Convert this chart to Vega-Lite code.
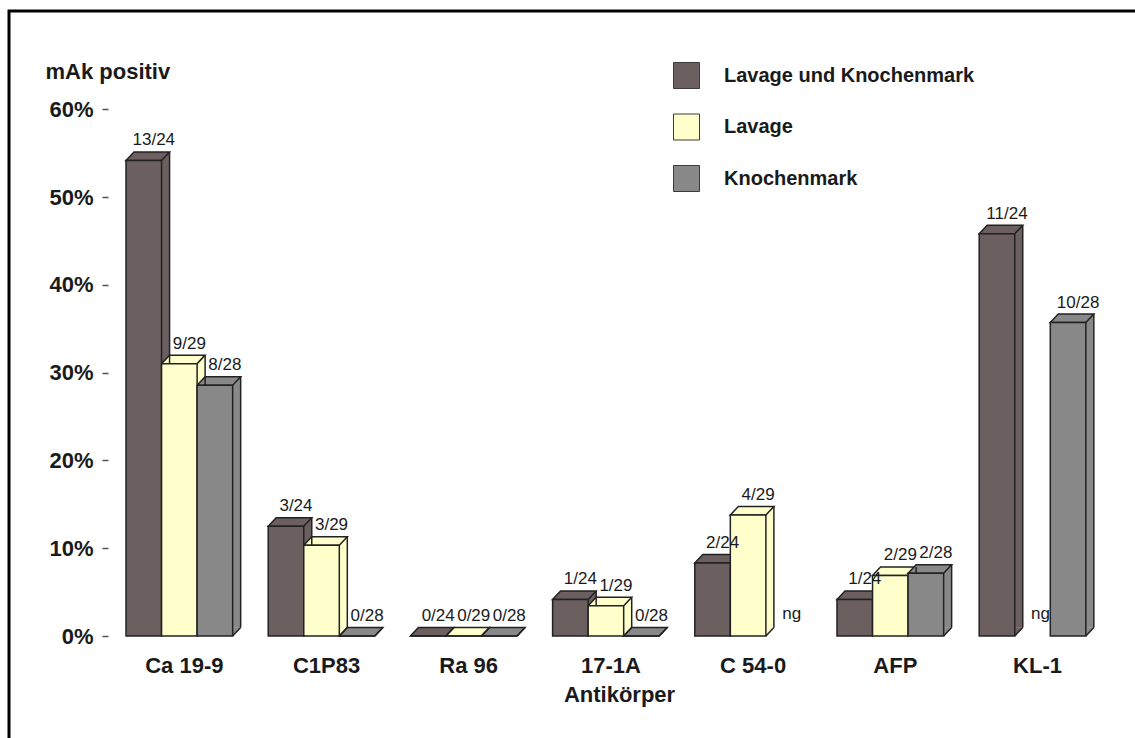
{
  "$schema": "https://vega.github.io/schema/vega-lite/v6.json",
  "width": 1136,
  "height": 738,
  "autosize": {"type": "none"},
  "padding": {"left": 9, "top": 11, "right": -10, "bottom": -11},
  "background": "#ffffff",
  "config": {
    "view": {"stroke": "#000000", "strokeWidth": 3},
    "font": "Liberation Sans",
    "axis": {"grid": false, "domain": false}
  },
  "data": {
    "values": [
      {"kategorie": "Ca 19-9|Lavage und Knochenmark", "gruppe": "Lavage und Knochenmark", "prozent": 54.17, "anteil": "13/24"},
      {"kategorie": "Ca 19-9|Lavage", "gruppe": "Lavage", "prozent": 31.03, "anteil": "9/29"},
      {"kategorie": "Ca 19-9|Knochenmark", "gruppe": "Knochenmark", "prozent": 28.57, "anteil": "8/28"},
      {"kategorie": "C1P83|Lavage und Knochenmark", "gruppe": "Lavage und Knochenmark", "prozent": 12.5, "anteil": "3/24"},
      {"kategorie": "C1P83|Lavage", "gruppe": "Lavage", "prozent": 10.34, "anteil": "3/29"},
      {"kategorie": "C1P83|Knochenmark", "gruppe": "Knochenmark", "prozent": 0, "anteil": "0/28"},
      {"kategorie": "Ra 96|Lavage und Knochenmark", "gruppe": "Lavage und Knochenmark", "prozent": 0, "anteil": "0/24"},
      {"kategorie": "Ra 96|Lavage", "gruppe": "Lavage", "prozent": 0, "anteil": "0/29"},
      {"kategorie": "Ra 96|Knochenmark", "gruppe": "Knochenmark", "prozent": 0, "anteil": "0/28"},
      {"kategorie": "17-1A|Lavage und Knochenmark", "gruppe": "Lavage und Knochenmark", "prozent": 4.17, "anteil": "1/24"},
      {"kategorie": "17-1A|Lavage", "gruppe": "Lavage", "prozent": 3.45, "anteil": "1/29"},
      {"kategorie": "17-1A|Knochenmark", "gruppe": "Knochenmark", "prozent": 0, "anteil": "0/28"},
      {"kategorie": "C 54-0|Lavage und Knochenmark", "gruppe": "Lavage und Knochenmark", "prozent": 8.33, "anteil": "2/24"},
      {"kategorie": "C 54-0|Lavage", "gruppe": "Lavage", "prozent": 13.79, "anteil": "4/29"},
      {"kategorie": "C 54-0|Knochenmark", "gruppe": "Knochenmark", "prozent": null, "anteil": "ng"},
      {"kategorie": "AFP|Lavage und Knochenmark", "gruppe": "Lavage und Knochenmark", "prozent": 4.17, "anteil": "1/24"},
      {"kategorie": "AFP|Lavage", "gruppe": "Lavage", "prozent": 6.9, "anteil": "2/29"},
      {"kategorie": "AFP|Knochenmark", "gruppe": "Knochenmark", "prozent": 7.14, "anteil": "2/28"},
      {"kategorie": "KL-1|Lavage und Knochenmark", "gruppe": "Lavage und Knochenmark", "prozent": 45.83, "anteil": "11/24"},
      {"kategorie": "KL-1|Lavage", "gruppe": "Lavage", "prozent": null, "anteil": "ng"},
      {"kategorie": "KL-1|Knochenmark", "gruppe": "Knochenmark", "prozent": 35.71, "anteil": "10/28"}
    ]
  },
  "encoding": {
    "x": {
      "field": "kategorie",
      "type": "nominal",
      "scale": {
        "domain": [
          "|1", "|2", "|3",
          "Ca 19-9|Lavage und Knochenmark", "Ca 19-9|Lavage", "Ca 19-9|Knochenmark", "Ca 19-9|",
          "C1P83|Lavage und Knochenmark", "C1P83|Lavage", "C1P83|Knochenmark", "C1P83|",
          "Ra 96|Lavage und Knochenmark", "Ra 96|Lavage", "Ra 96|Knochenmark", "Ra 96|",
          "17-1A|Lavage und Knochenmark", "17-1A|Lavage", "17-1A|Knochenmark", "17-1A|",
          "C 54-0|Lavage und Knochenmark", "C 54-0|Lavage", "C 54-0|Knochenmark", "C 54-0|",
          "AFP|Lavage und Knochenmark", "AFP|Lavage", "AFP|Knochenmark", "AFP|",
          "KL-1|Lavage und Knochenmark", "KL-1|Lavage", "KL-1|Knochenmark", "KL-1|"
        ],
        "paddingInner": 0,
        "paddingOuter": 0.478,
        "align": 0.305,
        "round": false
      },
      "axis": {
        "orient": "bottom",
        "offset": -113,
        "ticks": false,
        "values": ["Ca 19-9|Lavage", "C1P83|Lavage", "Ra 96|Lavage", "17-1A|Lavage", "C 54-0|Lavage", "AFP|Lavage", "KL-1|Lavage"],
        "labelExpr": "split(datum.value, '|')[0]",
        "labelAngle": 0,
        "labelPadding": 36,
        "labelBaseline": "alphabetic",
        "labelOffset": 5,
        "labelFontSize": 22,
        "labelFontWeight": "bold",
        "labelColor": "#1a1a1a",
        "title": "Antikörper",
        "titleFontSize": 22,
        "titleFontWeight": "bold",
        "titleColor": "#1a1a1a",
        "titleX": 610,
        "titleY": 65,
        "titleAlign": "center",
        "titleBaseline": "alphabetic"
      }
    }
  },
  "layer": [
    {
      "transform": [{"filter": "datum.prozent != null"}],
      "mark": {"type": "bar", "xOffset": 8, "yOffset": -8.5, "y2Offset": -8.5, "strokeWidth": 0},
      "encoding": {
        "y": {
          "field": "prozent",
          "type": "quantitative",
          "scale": {"domain": [-12.87, 71.2], "nice": false, "zero": false},
          "axis": {
            "orient": "left",
            "offset": -99,
            "values": [0, 10, 20, 30, 40, 50, 60],
            "labelExpr": "datum.value + '%'",
            "tickSize": 6,
            "tickWidth": 1.5,
            "tickColor": "#555555",
            "labelPadding": 9,
            "labelFontSize": 22,
            "labelFontWeight": "bold",
            "labelColor": "#1a1a1a",
            "title": "mAk positiv",
            "titleAngle": 0,
            "titleAlign": "left",
            "titleBaseline": "alphabetic",
            "titleX": -63,
            "titleY": 67,
            "titleFontSize": 22,
            "titleFontWeight": "bold",
            "titleColor": "#1a1a1a"
          }
        },
        "y2": {"datum": 0},
        "color": {
          "field": "gruppe",
          "type": "nominal",
          "sort": ["Lavage und Knochenmark", "Lavage", "Knochenmark"],
          "scale": {
            "domain": ["Lavage und Knochenmark", "Lavage", "Knochenmark"],
            "range": ["#6c5f5f", "#ffffcc", "#888888"]
          },
          "legend": {
            "title": null,
            "orient": "none",
            "legendX": 664,
            "legendY": 51,
            "padding": 0,
            "symbolType": "square",
            "symbolSize": 676,
            "symbolStrokeColor": "#3a3a3a",
            "symbolStrokeWidth": 1,
            "symbolOpacity": 1,
            "rowPadding": 20.5,
            "labelOffset": 24,
            "labelFontSize": 20,
            "labelFontWeight": "bold",
            "labelColor": "#1a1a1a",
            "labelLimit": 400
          }
        }
      }
    },
    {
      "transform": [{"filter": "datum.prozent != null"}],
      "mark": {"type": "point", "shape": "M1.73,0.02 L2.6,-0.87 L1.73,-0.87 Z", "size": 400, "filled": true, "opacity": 1, "strokeWidth": 0},
      "encoding": {
        "y": {"datum": 0},
        "color": {"field": "gruppe", "type": "nominal", "legend": null}
      }
    },
    {
      "transform": [{"filter": "datum.prozent != null"}],
      "mark": {"type": "point", "shape": "M-1.778,0 L-0.978,-0.85 L2.578,-0.85 L1.778,0 Z", "size": 400, "filled": true, "opacity": 1, "stroke": "#222222", "strokeWidth": 1.5, "strokeJoin": "miter"},
      "encoding": {
        "y": {"field": "prozent", "type": "quantitative"},
        "color": {"field": "gruppe", "type": "nominal", "legend": null}
      }
    },
    {
      "transform": [{"filter": "datum.prozent != null"}],
      "mark": {"type": "rule", "xOffset": 25.78, "yOffset": -8.5, "y2Offset": -8.5, "color": "#222222", "strokeWidth": 1.5},
      "encoding": {
        "y": {"field": "prozent", "type": "quantitative"},
        "y2": {"datum": 0}
      }
    },
    {
      "transform": [{"filter": "datum.prozent != null"}],
      "mark": {"type": "point", "shape": "M1.778,0 L2.578,-0.85", "size": 400, "filled": false, "opacity": 1, "stroke": "#222222", "strokeWidth": 1.5},
      "encoding": {
        "y": {"datum": 0}
      }
    },
    {
      "transform": [{"filter": "datum.prozent != null"}],
      "mark": {"type": "bar", "stroke": "#222222", "strokeWidth": 1.5},
      "encoding": {
        "y": {"field": "prozent", "type": "quantitative"},
        "y2": {"datum": 0},
        "color": {"field": "gruppe", "type": "nominal", "legend": null}
      }
    },
    {
      "transform": [{"filter": "datum.prozent != null"}],
      "mark": {"type": "text", "dx": 10, "dy": -15, "baseline": "alphabetic", "align": "center", "fontSize": 17, "color": "#1a1a1a"},
      "encoding": {
        "y": {"field": "prozent", "type": "quantitative"},
        "text": {"field": "anteil"}
      }
    },
    {
      "transform": [{"filter": "datum.prozent == null"}],
      "mark": {"type": "text", "dx": 8, "dy": -17, "baseline": "alphabetic", "align": "center", "fontSize": 17, "color": "#1a1a1a"},
      "encoding": {
        "y": {"datum": 0},
        "text": {"field": "anteil"}
      }
    }
  ]
}
